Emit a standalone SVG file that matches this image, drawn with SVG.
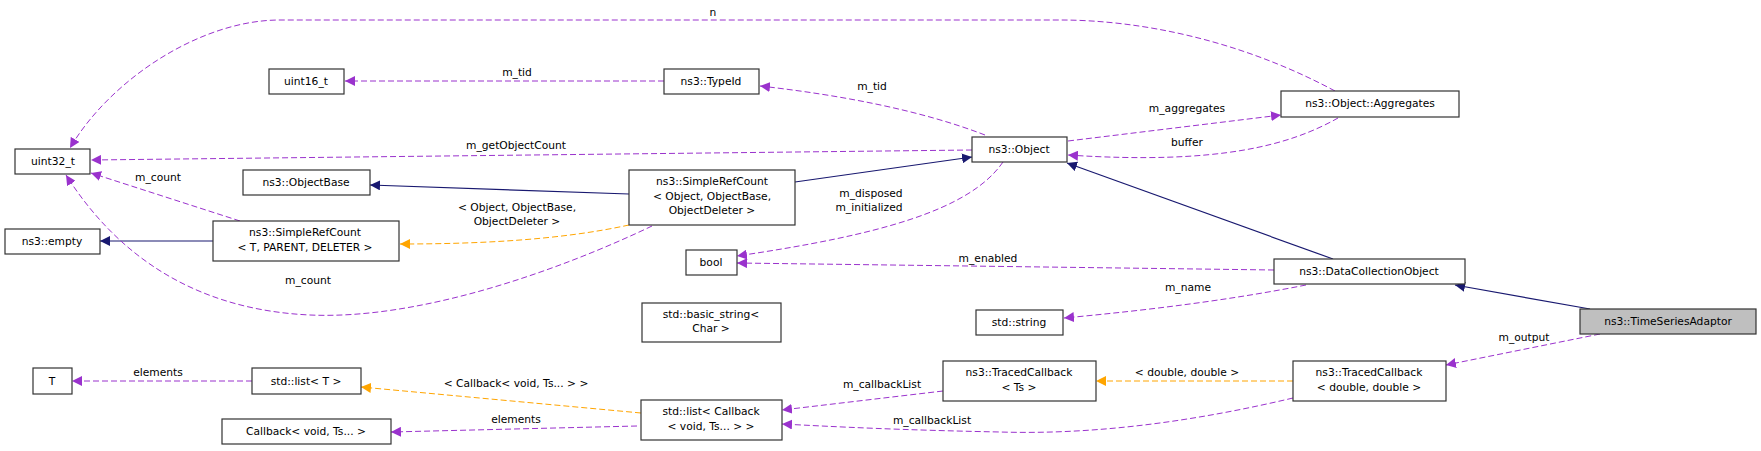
<svg xmlns="http://www.w3.org/2000/svg" width="1761" height="451" viewBox="0 0 1761 451">
<style>
.n rect{fill:#fff;stroke:#333;stroke-width:1.2}
text{font-family:"DejaVu Sans",sans-serif;font-size:10.7px;fill:#000;text-anchor:middle}
.p{fill:none;stroke:#9a32cd;stroke-dasharray:6,3;stroke-width:1}
.o{fill:none;stroke:#ffa500;stroke-dasharray:6,3;stroke-width:1}
.s{fill:none;stroke:#191970;stroke-width:1.2}
</style>
<defs>
<marker id="mp" viewBox="0 0 10 10" refX="10" refY="5" markerWidth="10" markerHeight="10" markerUnits="userSpaceOnUse" orient="auto"><path d="M0,0L10,5L0,10z" fill="#9a32cd"/></marker>
<marker id="mo" viewBox="0 0 10 10" refX="10" refY="5" markerWidth="10" markerHeight="10" markerUnits="userSpaceOnUse" orient="auto"><path d="M0,0L10,5L0,10z" fill="#ffa500"/></marker>
<marker id="ms" viewBox="0 0 10 10" refX="10" refY="5" markerWidth="10" markerHeight="10" markerUnits="userSpaceOnUse" orient="auto"><path d="M0,0L10,5L0,10z" fill="#191970"/></marker>
</defs>
<rect width="1761" height="451" fill="#fff"/>
<g id="edges">
<path class="p" marker-end="url(#mp)" d="M1335,91C1240,40 1140,20 1060,20L280,20C200,20 110,80 70,148"/>
<text x="713" y="16">n</text>
<path class="p" marker-end="url(#mp)" d="M985,135C920,110 840,95 760,86"/>
<text x="872" y="90">m_tid</text>
<path class="p" marker-end="url(#mp)" d="M664,81L345,81"/>
<text x="517" y="76">m_tid</text>
<path class="p" marker-end="url(#mp)" d="M972,150L91,160"/>
<text x="516" y="149">m_getObjectCount</text>
<path class="p" marker-end="url(#mp)" d="M1068,141L1281,115"/>
<text x="1187" y="112">m_aggregates</text>
<path class="p" marker-end="url(#mp)" d="M1338,118C1290,145 1220,165 1068,155"/>
<text x="1187" y="146">buffer</text>
<path class="s" marker-end="url(#ms)" d="M795,182L972,157"/>
<path class="s" marker-end="url(#ms)" d="M629,194L370,185"/>
<path class="o" marker-end="url(#mo)" d="M629,225C560,240 480,244 400,244"/>
<text x="517" y="211">&lt; Object, ObjectBase,</text>
<text x="517" y="225">ObjectDeleter &gt;</text>
<path class="s" marker-end="url(#ms)" d="M213,241L100,241"/>
<path class="p" marker-end="url(#mp)" d="M240,221L91,173"/>
<text x="158" y="181">m_count</text>
<path class="p" marker-end="url(#mp)" d="M652,226C560,270 420,320 310,315C200,310 120,260 66,175"/>
<text x="308" y="284">m_count</text>
<path class="p" marker-end="url(#mp)" d="M1003,162C970,210 880,235 737,256"/>
<text x="871" y="197">m_disposed</text>
<text x="869" y="211">m_initialized</text>
<path class="p" marker-end="url(#mp)" d="M1274,270L737,263"/>
<text x="988" y="262">m_enabled</text>
<path class="s" marker-end="url(#ms)" d="M1333,259L1067,163"/>
<path class="p" marker-end="url(#mp)" d="M1306,285C1230,300 1150,310 1064,318"/>
<text x="1188" y="291">m_name</text>
<path class="s" marker-end="url(#ms)" d="M1590,309L1455,285"/>
<path class="p" marker-end="url(#mp)" d="M1600,334L1446,365"/>
<text x="1524" y="341">m_output</text>
<path class="o" marker-end="url(#mo)" d="M1293,381L1096,381"/>
<text x="1187" y="376">&lt; double, double &gt;</text>
<path class="p" marker-end="url(#mp)" d="M943,391L782,410"/>
<text x="882" y="388">m_callbackList</text>
<path class="p" marker-end="url(#mp)" d="M1293,398C1200,420 1100,435 1000,432C900,430 840,427 782,424"/>
<text x="932" y="424">m_callbackList</text>
<path class="o" marker-end="url(#mo)" d="M641,413L361,387"/>
<text x="516" y="387">&lt; Callback&lt; void, Ts... &gt; &gt;</text>
<path class="p" marker-end="url(#mp)" d="M637,426L391,432"/>
<text x="516" y="423">elements</text>
<path class="p" marker-end="url(#mp)" d="M252,381L72,381"/>
<text x="158" y="376">elements</text>
</g>
<g id="uint32" class="n"><rect x="15" y="149" width="75" height="25"/><text x="53" y="165">uint32_t</text></g>
<g id="uint16" class="n"><rect x="269" y="69" width="75" height="25"/><text x="306" y="85">uint16_t</text></g>
<g id="objectbase" class="n"><rect x="243" y="170" width="127" height="25"/><text x="306" y="186">ns3::ObjectBase</text></g>
<g id="empty" class="n"><rect x="5" y="229" width="95" height="25"/><text x="52" y="245">ns3::empty</text></g>
<g id="src_t" class="n"><rect x="213" y="221" width="186" height="40"/><text x="305" y="236">ns3::SimpleRefCount</text><text x="305" y="251">&lt; T, PARENT, DELETER &gt;</text></g>
<g id="t" class="n"><rect x="33" y="368" width="39" height="26"/><text x="52" y="385">T</text></g>
<g id="listt" class="n"><rect x="252" y="368" width="109" height="26"/><text x="306" y="385">std::list&lt; T &gt;</text></g>
<g id="callback" class="n"><rect x="222" y="419" width="169" height="25"/><text x="306" y="435">Callback&lt; void, Ts... &gt;</text></g>
<g id="typeid" class="n"><rect x="664" y="69" width="95" height="25"/><text x="711" y="85">ns3::TypeId</text></g>
<g id="src_obj" class="n"><rect x="629" y="170" width="166" height="55"/><text x="712" y="185">ns3::SimpleRefCount</text><text x="712" y="200">&lt; Object, ObjectBase,</text><text x="712" y="214">ObjectDeleter &gt;</text></g>
<g id="bool" class="n"><rect x="686" y="250" width="51" height="25"/><text x="711" y="266">bool</text></g>
<g id="basicstring" class="n"><rect x="642" y="303" width="139" height="39"/><text x="711" y="318">std::basic_string&lt;</text><text x="711" y="332">Char &gt;</text></g>
<g id="listcb" class="n"><rect x="641" y="400" width="141" height="40"/><text x="711" y="415">std::list&lt; Callback</text><text x="711" y="430">&lt; void, Ts... &gt; &gt;</text></g>
<g id="object" class="n"><rect x="972" y="137" width="95" height="25"/><text x="1019" y="153">ns3::Object</text></g>
<g id="string" class="n"><rect x="976" y="310" width="87" height="25"/><text x="1019" y="326">std::string</text></g>
<g id="tcts" class="n"><rect x="943" y="361" width="153" height="40"/><text x="1019" y="376">ns3::TracedCallback</text><text x="1019" y="391">&lt; Ts &gt;</text></g>
<g id="aggregates" class="n"><rect x="1281" y="91" width="178" height="26"/><text x="1370" y="107">ns3::Object::Aggregates</text></g>
<g id="dco" class="n"><rect x="1274" y="259" width="191" height="25"/><text x="1369" y="275">ns3::DataCollectionObject</text></g>
<g id="tsa" class="n"><rect x="1580" y="309" width="176" height="25" style="fill:#bfbfbf"/><text x="1668" y="325">ns3::TimeSeriesAdaptor</text></g>
<g id="tcdd" class="n"><rect x="1293" y="361" width="153" height="40"/><text x="1369" y="376">ns3::TracedCallback</text><text x="1369" y="391">&lt; double, double &gt;</text></g>
</svg>
